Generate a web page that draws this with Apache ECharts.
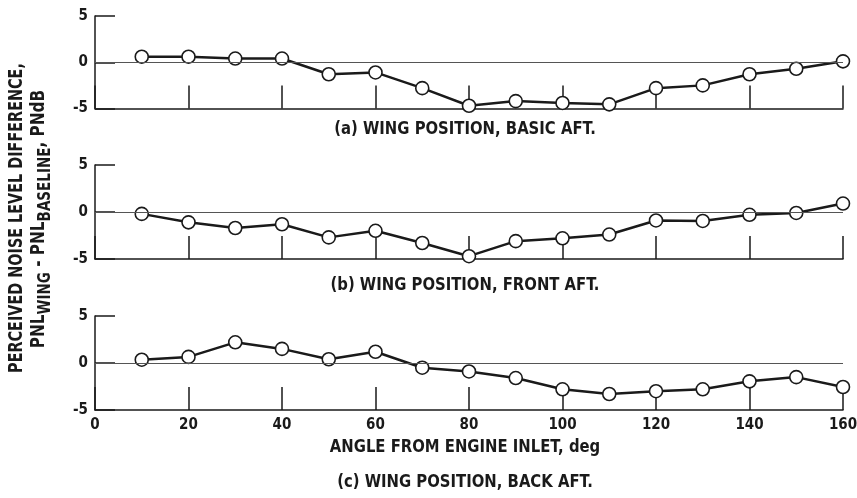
<!DOCTYPE html>
<html>
<head>
<meta charset="utf-8">
<script src="https://cdn.jsdelivr.net/npm/echarts@6/dist/echarts.min.js"></script>
<style>
  html, body { margin: 0; padding: 0; background: #fff; }
  #chart { width: 857px; height: 498px; }
</style>
</head>
<body>
<div id="chart"></div>
<script>
// Angle from engine inlet, deg
const angles = [10, 20, 30, 40, 50, 60, 70, 80, 90, 100, 110, 120, 130, 140, 150, 160];

// Perceived noise level difference, PNdB
const basicAft = [0.6, 0.6, 0.4, 0.4, -1.3, -1.1, -2.8, -4.7, -4.2, -4.4, -4.55, -2.8, -2.5, -1.3, -0.7, 0.1];
const frontAft = [-0.2, -1.1, -1.7, -1.3, -2.7, -2.0, -3.3, -4.7, -3.1, -2.8, -2.4, -0.9, -0.95, -0.3, -0.1, 0.9];
const backAft  = [0.35, 0.65, 2.2, 1.5, 0.4, 1.2, -0.5, -0.9, -1.6, -2.8, -3.3, -3.0, -2.8, -1.95, -1.5, -2.55];

const panels = [basicAft, frontAft, backAft];
const captions = [
  '(a) WING POSITION, BASIC AFT.',
  '(b) WING POSITION, FRONT AFT.',
  '(c) WING POSITION, BACK AFT.'
];
const xTitle = 'ANGLE FROM ENGINE INLET, deg';

const FONT = '"DejaVu Sans Condensed", "DejaVu Sans", sans-serif';
const INK = '#1a1a1a';

const gridTops = [16, 165, 316];
const gridHeights = [92.5, 94, 94];
const captionY = [129, 285, 482];

const grids = gridTops.map((t, i) => ({
  left: 95, width: 748, top: t, height: gridHeights[i],
  containLabel: false, outerBoundsMode: 'none'
}));

const xAxes = panels.map((_, i) => ({
  type: 'value', gridIndex: i, min: 0, max: 160, interval: 20,
  axisLine: { show: true, onZero: false, lineStyle: { color: INK, width: 1.5 } },
  axisTick: { show: true, inside: true, length: 23, lineStyle: { color: INK, width: 1.5 } },
  axisLabel: {
    show: i === 2, margin: 8, color: INK,
    fontFamily: FONT, fontWeight: 'bold', fontSize: 15
  },
  splitLine: { show: false }
}));

const yAxes = panels.map((_, i) => ({
  type: 'value', gridIndex: i, min: -5, max: 5, interval: 5,
  axisLine: { show: true, onZero: false, lineStyle: { color: INK, width: 1.5 } },
  axisTick: { show: true, inside: true, length: 20, lineStyle: { color: INK, width: 1.5 } },
  axisLabel: { margin: 7, color: INK, fontFamily: FONT, fontWeight: 'bold', fontSize: 15 },
  splitLine: { show: false }
}));

const series = panels.map((vals, i) => ({
  type: 'line', xAxisIndex: i, yAxisIndex: i,
  data: angles.map((a, k) => [a, vals[k]]),
  symbol: 'circle', symbolSize: 13,
  lineStyle: { color: INK, width: 2.5 },
  itemStyle: { color: '#fff', borderColor: INK, borderWidth: 1.6 },
  z: 3,
  markLine: {
    silent: true, symbol: 'none', label: { show: false },
    lineStyle: { color: '#555', width: 1, type: 'solid' },
    data: [{ yAxis: 0 }],
    animation: false
  },
  animation: false
}));

const textStyleBase = {
  fontFamily: FONT, fontWeight: 'bold', fontSize: 16.5, fill: INK,
  align: 'center', verticalAlign: 'middle'
};

const graphic = captions.map((c, i) => ({
  type: 'text', x: 465, y: captionY[i], scaleY: 1.1,
  style: Object.assign({ text: c }, textStyleBase)
}));
graphic.push({
  type: 'text', x: 465, y: 447, scaleY: 1.1,
  style: Object.assign({ text: xTitle }, textStyleBase)
});
graphic.push({
  type: 'text', x: 17, y: 218, rotation: Math.PI / 2, scaleY: 1.25,
  style: Object.assign({}, textStyleBase, { text: 'PERCEIVED NOISE LEVEL DIFFERENCE,', fontSize: 16 })
});
graphic.push({
  type: 'text', x: 39, y: 219, rotation: Math.PI / 2, scaleY: 1.15,
  style: Object.assign({}, textStyleBase, {
    text: '{m|PNL}{s|WING}{m| - PNL}{s|BASELINE}{m|, PNdB}',
    rich: {
      m: { fontFamily: FONT, fontWeight: 'bold', fontSize: 17, fill: INK },
      s: { fontFamily: FONT, fontWeight: 'bold', fontSize: 15, fill: INK, padding: [12, 0, 0, 0] }
    }
  })
});

const chart = echarts.init(document.getElementById('chart'), null, { renderer: 'canvas' });
chart.setOption({
  backgroundColor: '#fff',
  animation: false,
  grid: grids,
  xAxis: xAxes,
  yAxis: yAxes,
  series: series,
  graphic: graphic
});
</script>
</body>
</html>
